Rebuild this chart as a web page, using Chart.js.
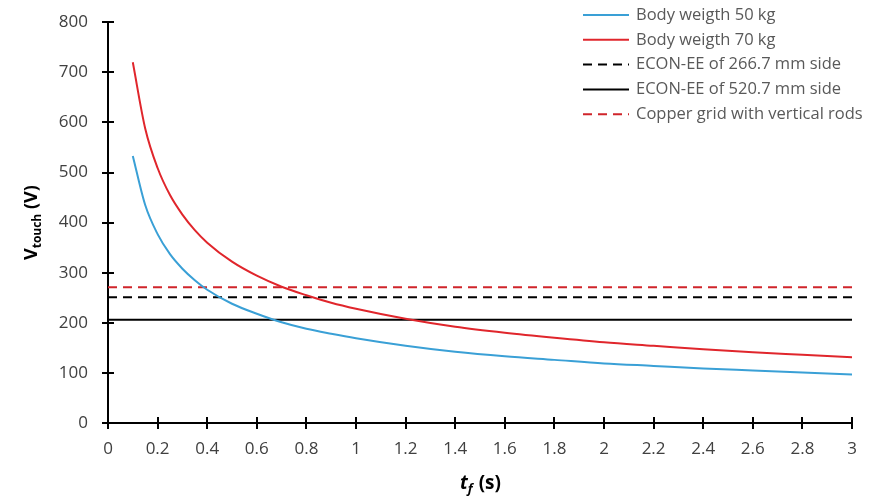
<!DOCTYPE html>
<html>
<head>
<meta charset="utf-8">
<script src="https://cdn.jsdelivr.net/npm/chart.js@4.4.1/dist/chart.umd.min.js"></script>
<style>
  html, body { margin: 0; padding: 0; background: #fff; }
  #wrap { width: 880px; height: 497px; }
</style>
</head>
<body>
<div id="wrap"><canvas id="touchChart" width="880" height="497"></canvas></div>
<script>
// fault duration t_f (s)
const times = [0.1, 0.15, 0.2, 0.25, 0.3, 0.35, 0.4, 0.5, 0.6, 0.7, 0.8, 0.9, 1, 1.2, 1.4, 1.6, 1.8, 2, 2.2, 2.4, 2.6, 2.8, 3];
// tolerable touch voltage (V)
const body50 = [533, 435, 377, 337, 308, 285, 266, 238, 218, 201, 188, 178, 169, 154, 142, 133, 126, 119, 114, 109, 105, 101, 97];
const body70 = [720, 588, 509, 455, 416, 385, 360, 322, 294, 272, 255, 240, 228, 208, 192, 180, 170, 161, 154, 147, 141, 136, 131];
// constant touch voltages of the grounding designs
const lineSpan = [0, 3];
const econ266 = 251;
const econ520 = 206;
const copperGrid = 271;

const xTicks = [0, 0.2, 0.4, 0.6, 0.8, 1, 1.2, 1.4, 1.6, 1.8, 2, 2.2, 2.4, 2.6, 2.8, 3];
const yTicks = [0, 100, 200, 300, 400, 500, 600, 700, 800];

const FONT = "'Open Sans', sans-serif";

function pts(xs, ys) {
    return xs.map((x, i) => ({ x: x, y: ys[i] }));
}
function flat(v) {
    return lineSpan.map(x => ({ x: x, y: v }));
}

// ticks crossing the axis line + axis titles + legend
const decor = {
    id: 'decor',
    afterDraw(chart) {
        const c = chart.ctx;
        const xs = chart.scales.x, ys = chart.scales.y;
        const area = chart.chartArea;
        c.save();
        c.strokeStyle = '#000';
        c.lineWidth = 2;
        c.beginPath();
        xTicks.forEach(v => {
            const px = Math.round(xs.getPixelForValue(v));
            c.moveTo(px, area.bottom - 6);
            c.lineTo(px, area.bottom + 6);
        });
        yTicks.forEach(v => {
            const py = Math.round(ys.getPixelForValue(v));
            c.moveTo(area.left - 6, py);
            c.lineTo(area.left + 6, py);
        });
        c.stroke();

        // y title: V_touch (V)
        c.fillStyle = '#000';
        c.textBaseline = 'alphabetic';
        c.translate(37, (area.top + area.bottom) / 2);
        c.rotate(-Math.PI / 2);
        const big = "bold 18px " + FONT, small = "bold 12px " + FONT;
        c.font = big; const w1 = c.measureText('V').width;
        c.font = small; const w2 = c.measureText('touch').width;
        c.font = big; const w3 = c.measureText(' (V)').width;
        let sx = -(w1 + w2 + w3) / 2;
        c.font = big; c.fillText('V', sx, 0); sx += w1;
        c.font = small; c.fillText('touch', sx, 4); sx += w2;
        c.font = big; c.fillText(' (V)', sx, 0);
        c.restore();

        // x title: t_f (s)
        c.save();
        c.fillStyle = '#000';
        const tb = "italic bold 19px " + FONT, ts = "italic bold 13px " + FONT;
        c.font = tb; const a1 = c.measureText('t').width;
        c.font = ts; const a2 = c.measureText('f').width;
        c.font = "bold 19px " + FONT; const a3 = c.measureText(' (s)').width;
        let tx = (area.left + area.right) / 2 - (a1 + a2 + a3) / 2;
        const ty = 489;
        c.font = tb; c.fillText('t', tx, ty); tx += a1;
        c.font = ts; c.fillText('f', tx, ty + 4); tx += a2 + 1;
        c.font = "bold 19px " + FONT; c.fillText(' (s)', tx, ty);
        c.restore();

        // legend
        c.save();
        c.font = "16.5px " + FONT;
        c.textBaseline = 'middle';
        chart.data.datasets.forEach((ds, i) => {
            const ly = 15 + i * 24.8;
            c.strokeStyle = ds.borderColor;
            c.lineWidth = 2;
            c.setLineDash(ds.borderDash || []);
            c.beginPath();
            c.moveTo(583, ly);
            c.lineTo(629, ly);
            c.stroke();
            c.setLineDash([]);
            c.fillStyle = '#595959';
            c.fillText(ds.label, 636, ly);
        });
        c.restore();
    }
};

const chart = new Chart(document.getElementById('touchChart'), {
    type: 'scatter',
    data: {
        datasets: [
            { label: 'Body weigth 50 kg', data: pts(times, body50), borderColor: '#3aa0d6' },
            { label: 'Body weigth 70 kg', data: pts(times, body70), borderColor: '#e0262c' },
            { label: 'ECON-EE of 266.7 mm side', data: flat(econ266), borderColor: '#000000', borderDash: [9, 6] },
            { label: 'ECON-EE of 520.7 mm side', data: flat(econ520), borderColor: '#000000' },
            { label: 'Copper grid with vertical rods', data: flat(copperGrid), borderColor: '#d0252b', borderDash: [9, 6] }
        ].map(d => Object.assign({
            showLine: true, pointRadius: 0, borderWidth: 2, fill: false,
            cubicInterpolationMode: 'monotone'
        }, d))
    },
    options: {
        responsive: false,
        animation: false,
        layout: { padding: { top: 18, right: 28, left: 0, bottom: 0 } },
        plugins: { legend: { display: false }, tooltip: { enabled: false } },
        scales: {
            x: {
                type: 'linear', min: 0, max: 3,
                afterBuildTicks: s => { s.ticks = xTicks.map(v => ({ value: v })); },
                afterFit: s => { s.height = 74; },
                grid: { display: false },
                border: { color: '#000', width: 2 },
                ticks: {
                    color: '#404040', font: { family: FONT, size: 17 }, padding: 8, maxRotation: 0,
                    callback: v => String(v)
                }
            },
            y: {
                type: 'linear', min: 0, max: 800,
                afterBuildTicks: s => { s.ticks = yTicks.map(v => ({ value: v })); },
                afterFit: s => { s.width = 108; },
                grid: { display: false },
                border: { color: '#000', width: 2 },
                ticks: { color: '#404040', font: { family: FONT, size: 17 }, padding: 12 }
            }
        }
    },
    plugins: [decor]
});
</script>
</body>
</html>
